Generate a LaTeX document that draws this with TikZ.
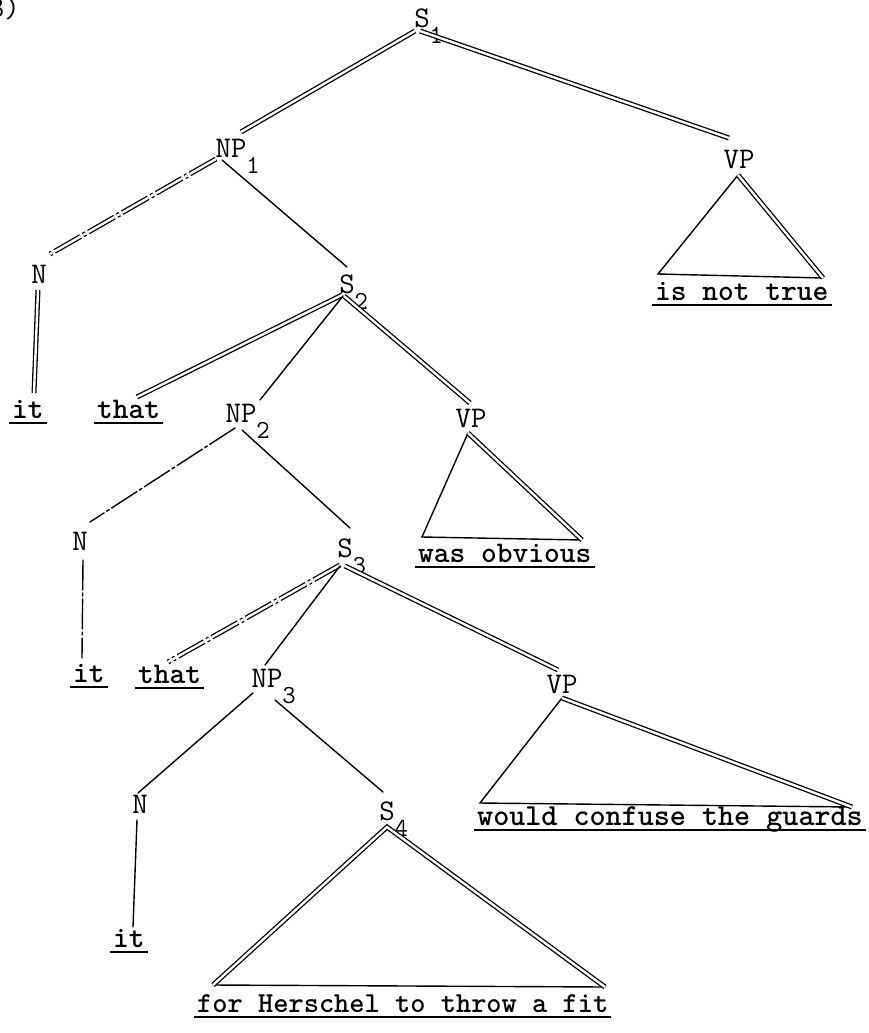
\documentclass[tikz,border=0pt]{standalone}
\usepackage{fontspec}
\usetikzlibrary{calc}
\newcommand\subnum[1]{\rlap{\smash{\raisebox{-16pt}{\fontsize{26}{26}\selectfont #1}}}}
\begin{document}
\begin{tikzpicture}[x=1pt,y=-1pt,
  lab/.style={inner sep=0pt, anchor=base, font=\ttfamily\fontsize{30}{30}\selectfont},
  term/.style={inner sep=0pt, anchor=base west, font=\ttfamily\bfseries\fontsize{30}{30}\selectfont},
  sline/.style={line width=1.4pt, line cap=round},
  dbl/.style={line width=1.3pt, double, double distance=2.4pt},
  faded/.style={dash pattern=on 30pt off 3pt on 3pt off 3pt},
  ul/.style={line width=1.8pt}]
\useasboundingbox (0,0) rectangle (868,1033);

% figure number (cut at the left edge, as in the source)
\node[lab, anchor=base east] (num) at (20,18) {3)};

% category labels
\node[lab] (s1)  at (422,28)  {S\subnum{1}};
\node[lab] (np1) at (231,157) {NP\subnum{1}};
\node[lab] (vpa) at (739,168) {VP};
\node[lab] (n1)  at (39,283)  {N};
\node[lab] (s2)  at (347,293) {S\subnum{2}};
\node[lab] (np2) at (241,422) {NP\subnum{2}};
\node[lab] (vpb) at (471,427) {VP};
\node[lab] (n2)  at (80,550)  {N};
\node[lab] (s3)  at (345,557) {S\subnum{3}};
\node[lab] (np3) at (267,687) {NP\subnum{3}};
\node[lab] (vpc) at (562,693) {VP};
\node[lab] (n3)  at (140,813) {N};
\node[lab] (s4)  at (387,820) {S\subnum{4}};

% terminal strings
\node[term] (it1)   at (12,418)  {it};
\node[term] (that1) at (97,418)  {that};
\node[term] (inot)  at (655,300) {is not true};
\node[term] (wobv)  at (418,562) {was obvious};
\node[term] (it2)   at (73,682)  {it};
\node[term] (that2) at (138,683) {that};
\node[term, font=\ttfamily\bfseries\fontsize{30.6}{30}\selectfont] (wcon) at (477,825) {would confuse the guards};
\node[term] (it3)   at (113,947) {it};
\node[term, font=\ttfamily\bfseries\fontsize{29}{30}\selectfont] (forh) at (197,1012) {for Herschel to throw a fit};

\foreach \t in {it1,that1,inot,wobv,it2,that2,wcon,it3,forh}
  \draw[ul] ($(\t.base west)+(-3,5)$) -- ($(\t.base east)+(3,5)$);

% branches
\draw[dbl] ($(s1.base)+(-7,3)$) -- ($(np1.base)+(10,-25)$);
\draw[dbl] ($(s1.base)+(-2,3)$) -- ($(vpa.base)+(-10,-30)$);
\draw[dbl,faded] ($(np1.base)+(-15,2)$) -- ($(n1.base)+(11,-29)$);
\draw[dbl] ($(n1.base)+(-1,7)$) -- ($(it1.base west)+(22,-25)$);
\draw[sline] ($(np1.base)+(-9,3)$) -- ($(s2.base)+(0,-26)$);
\draw[dbl] ($(s2.base)+(-5,2)$) -- ($(that1.base west)+(40,-21)$);
\draw[sline] ($(s2.base)+(-4,3)$) -- ($(np2.base)+(19,-22)$);
\draw[dbl] ($(s2.base)+(-3,3)$) -- ($(vpb.base)+(-1,-24)$);
\draw[sline,faded] ($(np2.base)+(-6,6)$) -- ($(n2.base)+(10,-28)$);
\draw[sline] ($(np2.base)+(1,8)$) -- ($(s3.base)+(5,-29)$);
\draw[sline,faded] ($(n2.base)+(3,10)$) -- ($(it2.base west)+(9,-24)$);
\draw[dbl,faded] ($(s3.base)+(-5,8)$) -- ($(that2.base west)+(30,-21)$);
\draw[sline] ($(s3.base)+(-5,9)$) -- ($(np3.base)+(-2,-22)$);
\draw[dbl] ($(s3.base)+(0,9)$) -- ($(vpc.base)+(-4,-23)$);
\draw[sline] ($(np3.base)+(-14,6)$) -- ($(n3.base)+(-2,-20)$);
\draw[sline] ($(np3.base)+(8,13)$) -- ($(s4.base)+(-4,-28)$);
\draw[sline] ($(n3.base)+(-3,7)$) -- ($(it3.base west)+(20,-20)$);

% triangles
\coordinate (vpaT) at ($(vpa.base)+(-1,7)$);
\coordinate (vpaL) at ($(inot.base west)+(3,-26)$);
\coordinate (vpaR) at ($(inot.base west)+(168,-22)$);
\draw[sline] (vpaR) -- (vpaL) -- (vpaT);
\draw[dbl] (vpaT) -- (vpaR);

\coordinate (vpbT) at ($(vpb.base)+(-3,6)$);
\coordinate (vpbL) at ($(wobv.base west)+(4,-25)$);
\coordinate (vpbR) at ($(wobv.base west)+(164,-22)$);
\draw[sline] (vpbR) -- (vpbL) -- (vpbT);
\draw[dbl] (vpbT) -- (vpbR);

\coordinate (vpcT) at ($(vpc.base)+(0,5)$);
\coordinate (vpcL) at ($(wcon.base west)+(3,-22)$);
\coordinate (vpcR) at ($(wcon.base west)+(375,-18)$);
\draw[sline] (vpcR) -- (vpcL) -- (vpcT);
\draw[dbl] (vpcT) -- (vpcR);

\coordinate (s4T) at ($(s4.base)+(0,7)$);
\coordinate (s4L) at ($(forh.base west)+(16,-27)$);
\coordinate (s4R) at ($(forh.base west)+(408,-25)$);
\draw[sline] (s4L) -- (s4R);
\draw[dbl] (s4L) -- (s4T) -- (s4R);
\end{tikzpicture}
\end{document}
